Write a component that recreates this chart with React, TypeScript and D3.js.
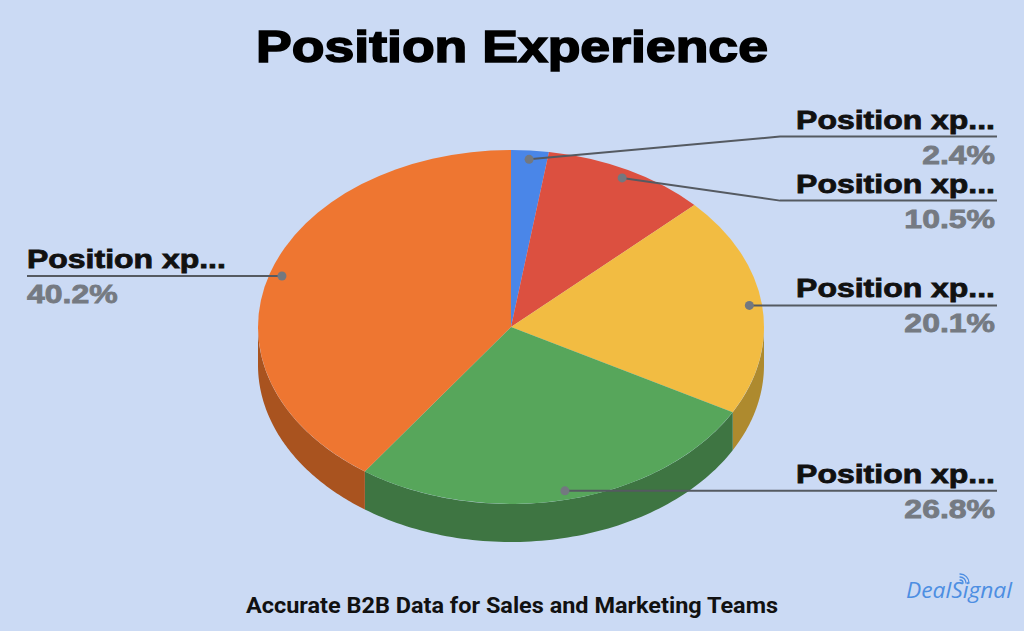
import React from "react";
import * as d3 from "d3";

const TITLE = "Position Experience";
const SUBTITLE = "Accurate B2B Data for Sales and Marketing Teams";
const BRAND = "DealSignal";
const sliceLabels = ["Position xp...", "Position xp...", "Position xp...", "Position xp...", "Position xp..."];
const sliceValues = [2.4, 10.5, 20.1, 26.8, 40.2];
const topColors = ["#4a86e8", "#dc5040", "#f2bc42", "#57a65b", "#ee7631"];
const sideColors = ["#345fa6", "#9c392e", "#ae8a2e", "#3e7542", "#a9531f"];

const W = 1024, H = 631;
const CX = 511, CY = 327, RX = 253, RY = 177, DEPTH = 38;
const BG = "#cbdaf4";
const LABEL_GAP = 64;
const RIGHT_X = 995, LEFT_X = 27, ELBOW_X = 780;

function ellPt(a: number, f = 1, dy = 0): [number, number] {
  return [CX + RX * f * Math.sin(a), CY - RY * f * Math.cos(a) + dy];
}

function spread(items: { i: number; want: number }[]) {
  const sorted = [...items].sort((a, b) => a.want - b.want);
  let clusters = sorted.map((it) => ({ items: [it], y0: it.want }));
  let changed = true;
  while (changed) {
    changed = false;
    for (let k = 0; k < clusters.length - 1; k++) {
      const a = clusters[k], b = clusters[k + 1];
      const aEnd = a.y0 + (a.items.length - 1) * LABEL_GAP;
      if (aEnd + LABEL_GAP > b.y0) {
        const its = [...a.items, ...b.items];
        const mean = d3.mean(its, (d) => d.want) as number;
        clusters.splice(k, 2, { items: its, y0: mean - ((its.length - 1) * LABEL_GAP) / 2 });
        changed = true;
        break;
      }
    }
  }
  const out: Record<number, number> = {};
  clusters.forEach((c) => c.items.forEach((it, j) => (out[it.i] = c.y0 + j * LABEL_GAP)));
  return out;
}

export default function App() {
  const arcs = d3.pie<number>().sort(null).value((d) => d)(sliceValues);
  const unitArc = d3.arc<d3.PieArcDatum<number>>().innerRadius(0).outerRadius(1);
  const line = d3.line();

  const sides = arcs.map((a, i) => {
    const s = Math.max(a.startAngle, Math.PI / 2);
    const e = Math.min(a.endAngle, (3 * Math.PI) / 2);
    if (e <= s) return null;
    const n = 80;
    const top = d3.range(n + 1).map((k) => ellPt(s + ((e - s) * k) / n));
    const bot = top.map(([x, y]) => [x, y + DEPTH] as [number, number]).reverse();
    return { d: (line([...top, ...bot]) as string) + "Z", color: sideColors[i] };
  });

  const dots = arcs.map((a, i) => {
    const mid = (a.startAngle + a.endAngle) / 2;
    const [x, y] = ellPt(mid, 0.95);
    return { i, x, y, right: Math.sin(mid) >= 0 };
  });
  const rightY = spread(dots.filter((d) => d.right).map((d) => ({ i: d.i, want: d.y })));
  const leftY = spread(dots.filter((d) => !d.right).map((d) => ({ i: d.i, want: d.y })));

  const labelFont = "'Liberation Sans', Arial, sans-serif";

  return (
    <svg width={W} height={H} style={{ position: "absolute", left: 0, top: 0, display: "block" }}>
      <rect width={W} height={H} fill={BG} />
      <g transform={`translate(${512},62) scale(1.19,1)`}>
        <text textAnchor="middle" fontFamily={labelFont} fontWeight="bold" fontSize={45} fill="#000" stroke="#000" strokeWidth={1.6}>
          {TITLE}
        </text>
      </g>
      {sides.map((s, i) => s && <path key={"s" + i} d={s.d} fill={s.color} />)}
      <g transform={`translate(${CX},${CY}) scale(${RX},${RY})`}>
        {arcs.map((a, i) => (
          <path key={"t" + i} d={unitArc(a) as string} fill={topColors[i]} />
        ))}
      </g>
      {dots.map((d) => {
        const ly = d.right ? rightY[d.i] : leftY[d.i];
        const pts: [number, number][] = d.right
          ? [[d.x, d.y], [ELBOW_X, ly], [RIGHT_X + 2, ly]]
          : [[d.x, d.y], [LEFT_X, ly]];
        const tx = d.right ? RIGHT_X : LEFT_X;
        const anchor = d.right ? "end" : "start";
        return (
          <g key={"l" + d.i}>
            <path d={line(pts) as string} fill="none" stroke="#555a61" strokeWidth={2} />
            <circle cx={d.x} cy={d.y} r={4.5} fill="#737880" />
            <g transform={`translate(${tx},${ly - 8}) scale(1.23,1)`}>
              <text textAnchor={anchor} fontFamily={labelFont} fontWeight="bold" fontSize={26} fill="#111" stroke="#111" strokeWidth={0.8}>
                {sliceLabels[d.i]}
              </text>
            </g>
            <g transform={`translate(${tx},${ly + 27}) scale(1.23,1)`}>
              <text textAnchor={anchor} fontFamily={labelFont} fontWeight="bold" fontSize={26} fill="#757a82" stroke="#757a82" strokeWidth={0.8}>
                {sliceValues[d.i].toFixed(1) + "%"}
              </text>
            </g>
          </g>
        );
      })}
      <text x={512} y={613} textAnchor="middle" fontFamily="Roboto, sans-serif" fontWeight="bold" fontSize={22} fill="#111" textLength={532} lengthAdjust="spacingAndGlyphs">
        {SUBTITLE}
      </text>
      <text x={906} y={598} fontFamily="'Open Sans', sans-serif" fontStyle="italic" fontSize={22} fill="#4d8ee2" textLength={106} lengthAdjust="spacingAndGlyphs">
        {BRAND}
      </text>
      <g fill="none" stroke="#4d8ee2" strokeWidth={1.3} strokeLinecap="round">
        <path d="M960,580 a3,3 0 0 1 3,3" />
        <path d="M960,577 a6,6 0 0 1 6,6" />
        <path d="M960,574 a9,9 0 0 1 9,9" />
      </g>
    </svg>
  );
}
